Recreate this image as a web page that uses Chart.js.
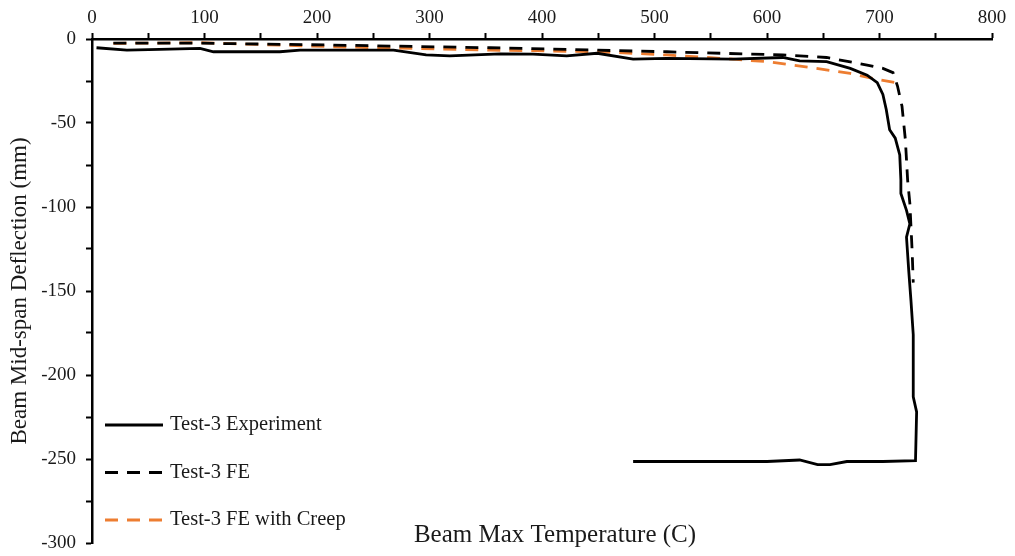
<!DOCTYPE html>
<html>
<head>
<meta charset="utf-8">
<script src="https://cdn.jsdelivr.net/npm/chart.js@4.4.1/dist/chart.umd.min.js"></script>
<style>
    html, body { margin: 0; padding: 0; background: #fff; }
    canvas { display: block; }
</style>
</head>
<body>
<canvas id="deflChart" width="1015" height="556"></canvas>
<script>
// Test-3 measured deflection vs. beam max temperature
const expTemp = [4, 31, 60, 96, 108, 167, 185, 268, 297, 318, 363, 392, 422, 449, 481, 511, 570, 614, 629, 653, 674, 689, 698, 703, 706, 709, 714, 718, 719, 719, 724, 727, 724, 726, 728, 730, 730, 733, 732, 703, 671, 656, 645, 629, 600, 481];
const expDefl = [-5.2, -6.6, -6.2, -5.6, -7.6, -7.6, -6.6, -6.6, -9.5, -10, -8.8, -9, -10, -8.5, -12, -11.5, -12, -11, -13, -13.5, -17.5, -21.5, -26, -33, -42, -54, -59, -69, -84, -92, -102, -110, -118, -138, -156, -176, -213, -222, -251, -251.5, -251.5, -253.4, -253.4, -250.6, -251.5, -251.5];

// FE model without creep
const feTemp = [19, 96, 214, 354, 511, 614, 653, 689, 703, 712, 716, 720, 723, 725, 727, 729, 730];
const feDefl = [-2.5, -2.5, -3.6, -5.2, -7.6, -9.5, -11, -15.5, -17.5, -20, -28, -40, -60, -84, -98, -126, -145];

// FE model with creep
const creepTemp = [19, 96, 214, 354, 452, 511, 570, 600, 644, 674, 698, 715];
const creepDefl = [-2.6, -2.2, -4.6, -6.6, -7.6, -9.5, -12, -13.5, -17.5, -20.5, -24, -26];

const seriesNames = ['Test-3 Experiment', 'Test-3 FE', 'Test-3 FE with Creep'];
const xTitle = 'Beam Max Temperature (C)';
const yTitle = 'Beam Mid-span Deflection (mm)';

const FONT = '"Liberation Serif", "Times New Roman", serif';
const TEXT = '#1a1a1a';
const ORANGE = '#ed7d31';

const toPoints = (xs, ys) => xs.map((x, i) => ({ x: x, y: ys[i] }));

// x title sits inside the plot near the bottom, legend in the lower-left corner
const insideText = {
    id: 'insideText',
    afterDraw(chart) {
        const ctx = chart.ctx;
        ctx.save();
        ctx.font = '25px ' + FONT;
        ctx.fillStyle = TEXT;
        ctx.textBaseline = 'middle';
        ctx.textAlign = 'center';
        ctx.fillText(xTitle, 555, 535);

        ctx.font = '20.5px ' + FONT;
        ctx.textAlign = 'left';
        chart.data.datasets.forEach((ds, i) => {
            const y = 425 + i * 47.5;
            ctx.beginPath();
            ctx.strokeStyle = ds.borderColor;
            ctx.lineWidth = ds.borderWidth;
            ctx.setLineDash(ds.borderDash || []);
            ctx.moveTo(105, y);
            ctx.lineTo(163, y);
            ctx.stroke();
            ctx.setLineDash([]);
            ctx.fillText(ds.label, 170, y);
        });
        ctx.restore();
    }
};

const axisGrid = {
    display: true,
    drawOnChartArea: false,
    drawTicks: true,
    tickLength: 6,
    tickWidth: 2,
    color: '#000',
};

new Chart(document.getElementById('deflChart'), {
    type: 'line',
    data: {
        datasets: [
            {
                label: seriesNames[0],
                data: toPoints(expTemp, expDefl),
                borderColor: '#000',
                borderWidth: 2.8,
            },
            {
                label: seriesNames[1],
                data: toPoints(feTemp, feDefl),
                borderColor: '#000',
                borderWidth: 2.8,
                borderDash: [13, 9],
            },
            {
                label: seriesNames[2],
                data: toPoints(creepTemp, creepDefl),
                borderColor: ORANGE,
                borderWidth: 2.8,
                borderDash: [13, 9],
            },
        ],
    },
    options: {
        responsive: false,
        animation: false,
        events: [],
        elements: {
            point: { radius: 0 },
            line: { tension: 0, fill: false },
        },
        layout: {
            padding: { left: 0, right: 23, top: 0, bottom: 13 },
        },
        plugins: {
            legend: { display: false },
            tooltip: { enabled: false },
        },
        scales: {
            x: {
                type: 'linear',
                position: 'top',
                min: 0,
                max: 800,
                afterFit: (scale) => { scale.height = 39; },
                border: { display: true, color: '#000', width: 2.5 },
                grid: axisGrid,
                ticks: {
                    stepSize: 50,
                    padding: 4,
                    maxRotation: 0,
                    autoSkip: false,
                    color: TEXT,
                    font: { family: FONT, size: 19 },
                    callback: (v) => (v % 100 === 0 ? v : ''),
                },
            },
            y: {
                type: 'linear',
                position: 'left',
                min: -300,
                max: 0,
                afterFit: (scale) => {
                    scale.width = 92;
                    scale.paddingTop = 0;
                    scale.paddingBottom = 0;
                },
                border: { display: true, color: '#000', width: 2.5 },
                grid: axisGrid,
                ticks: {
                    stepSize: 25,
                    padding: 10,
                    autoSkip: false,
                    color: TEXT,
                    font: { family: FONT, size: 19 },
                    callback: (v) => (v % 50 === 0 ? v : ''),
                },
                title: {
                    display: true,
                    text: yTitle,
                    color: TEXT,
                    font: { family: FONT, size: 23 },
                    padding: { top: 6, bottom: 0 },
                },
            },
        },
    },
    plugins: [insideText],
});
</script>
</body>
</html>
